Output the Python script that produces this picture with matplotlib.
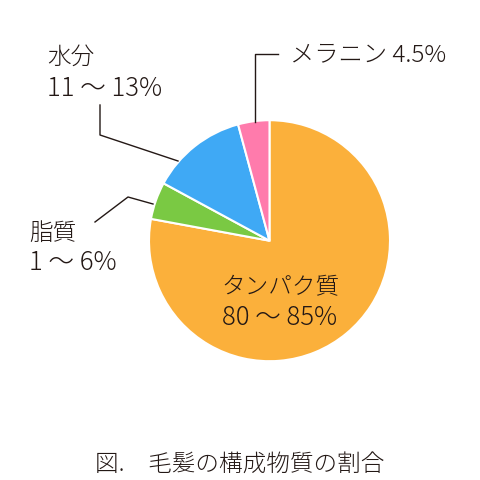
import matplotlib
matplotlib.use("Agg")
import matplotlib.pyplot as plt

plt.rcParams['font.family'] = ['Noto Sans CJK JP', 'DejaVu Sans']

# data
categories = ["タンパク質", "脂質", "水分", "メラニン"]
values = [77.9, 5.0, 12.9, 4.2]
colors = ["#FBB03B", "#7AC943", "#3FA9F5", "#FF7BAC"]
label_lines = {
    "タンパク質": ["タンパク質", "80 ～ 85%"],
    "脂質": ["脂質", "1 ～ 6%"],
    "水分": ["水分", "11 ～ 13%"],
    "メラニン": ["メラニン 4.5%"],
}
caption = "図.　毛髪の構成物質の割合"

W = H = 480
fig = plt.figure(figsize=(4.8, 4.8), dpi=100)
ax = fig.add_axes([0, 0, 1, 1])

def Y(py):
    return H - py

cx, cy, r = 269.5, Y(240.7), 120.5
ax.pie(values, colors=colors, startangle=90, counterclock=False,
       center=(cx, cy), radius=r, frame=True,
       wedgeprops=dict(edgecolor='white', linewidth=1.5))
ax.set_xlim(0, W)
ax.set_ylim(0, H)
ax.set_aspect('equal')
ax.axis('off')

tc = "#231815"
lw = 1.0
# leader lines
ax.plot([278, 254.5, 254.5], [Y(53.5), Y(53.5), Y(122)], color=tc, lw=lw)
ax.plot([100, 100, 178], [Y(105), Y(135), Y(161)], color=tc, lw=lw)
ax.plot([95, 128, 153], [Y(222), Y(197), Y(204)], color=tc, lw=lw)

def lines(x, ys, texts, sizes, ha='left'):
    for yy, t, s in zip(ys, texts, sizes):
        ax.text(x, Y(yy), t, fontsize=s, color=tc, ha=ha, va='baseline',
                fontweight='light')

lines(47, [64, 96], label_lines["水分"], [17, 18.5])
lines(290, [61.5], label_lines["メラニン"], [17.5])
lines(29, [240, 270], label_lines["脂質"], [17, 18.5])
lines(280, [294, 325], label_lines["タンパク質"], [17, 18.5], ha='center')

ax.text(240, Y(471), caption, fontsize=17, color=tc, ha='center',
        va='baseline', fontweight='light')

fig.savefig("out.png", dpi=100, facecolor='white')
